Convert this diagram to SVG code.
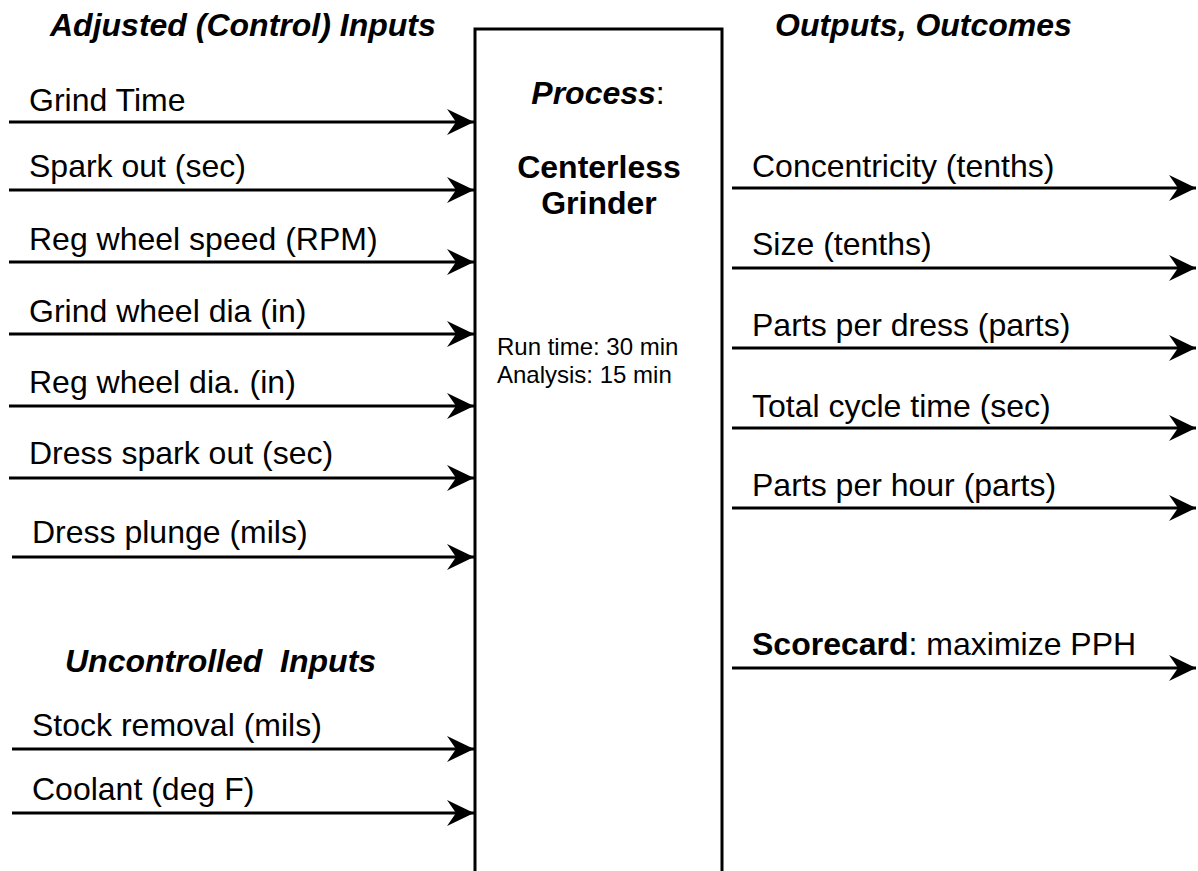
<svg xmlns="http://www.w3.org/2000/svg" width="1198" height="871" viewBox="0 0 1198 871">
<style>
text{font-family:"Liberation Sans",Arial,sans-serif;fill:#000}
.lbl{font-size:32px}
.hdr{font-size:32px;font-weight:bold;font-style:italic}
.sm{font-size:24px}
.ln{stroke:#000;stroke-width:3;fill:none}
</style>
<defs>
<marker id="ah" markerUnits="userSpaceOnUse" viewBox="-28 -14 30 28" refX="0" refY="0" markerWidth="30" markerHeight="28" orient="auto">
<path d="M0,0 L-27,-13 L-18,0 L-27,13 Z" fill="#000"/>
</marker>
</defs>
<rect width="1198" height="871" fill="#fff"/>
<g id="headers">
<text class="hdr" x="50" y="36">Adjusted (Control) Inputs</text>
<text class="hdr" x="775" y="36">Outputs, Outcomes</text>
<text class="hdr" x="65" y="672" xml:space="preserve">Uncontrolled  Inputs</text>
</g>
<g id="process">
<path class="ln" d="M475,871 V29 H722 V871"/>
<text x="598" y="104" text-anchor="middle" class="lbl"><tspan font-weight="bold" font-style="italic">Process</tspan>:</text>
<text x="599" y="178" text-anchor="middle" class="lbl" font-weight="bold">Centerless</text>
<text x="599" y="214" text-anchor="middle" class="lbl" font-weight="bold">Grinder</text>
<text class="sm" x="497" y="355">Run time: 30 min</text>
<text class="sm" x="497" y="383">Analysis: 15 min</text>
</g>
<g id="inputs">
<text class="lbl" x="29" y="111">Grind Time</text>
<text class="lbl" x="29" y="177">Spark out (sec)</text>
<text class="lbl" x="29" y="250">Reg wheel speed (RPM)</text>
<text class="lbl" x="29" y="322">Grind wheel dia (in)</text>
<text class="lbl" x="29" y="393">Reg wheel dia. (in)</text>
<text class="lbl" x="29" y="464">Dress spark out (sec)</text>
<text class="lbl" x="32" y="543">Dress plunge (mils)</text>
<text class="lbl" x="32" y="736">Stock removal (mils)</text>
<text class="lbl" x="32" y="800">Coolant (deg F)</text>
</g>
<g id="outputs">
<text class="lbl" x="752" y="177">Concentricity (tenths)</text>
<text class="lbl" x="752" y="255">Size (tenths)</text>
<text class="lbl" x="752" y="336">Parts per dress (parts)</text>
<text class="lbl" x="752" y="417">Total cycle time (sec)</text>
<text class="lbl" x="752" y="496">Parts per hour (parts)</text>
<text class="lbl" x="752" y="655"><tspan font-weight="bold">Scorecard</tspan>: maximize PPH</text>
</g>
<g id="connectors" class="ln" marker-end="url(#ah)">
<line x1="9" y1="122" x2="474" y2="122"/>
<line x1="9" y1="190" x2="474" y2="190"/>
<line x1="9" y1="262" x2="474" y2="262"/>
<line x1="9" y1="334" x2="474" y2="334"/>
<line x1="9" y1="406" x2="474" y2="406"/>
<line x1="9" y1="478" x2="474" y2="478"/>
<line x1="12" y1="557" x2="474" y2="557"/>
<line x1="12" y1="749" x2="474" y2="749"/>
<line x1="12" y1="813" x2="474" y2="813"/>
<line x1="732" y1="188" x2="1196" y2="188"/>
<line x1="732" y1="268" x2="1196" y2="268"/>
<line x1="732" y1="348" x2="1196" y2="348"/>
<line x1="732" y1="428" x2="1196" y2="428"/>
<line x1="732" y1="508" x2="1196" y2="508"/>
<line x1="732" y1="668" x2="1196" y2="668"/>
</g>
</svg>
